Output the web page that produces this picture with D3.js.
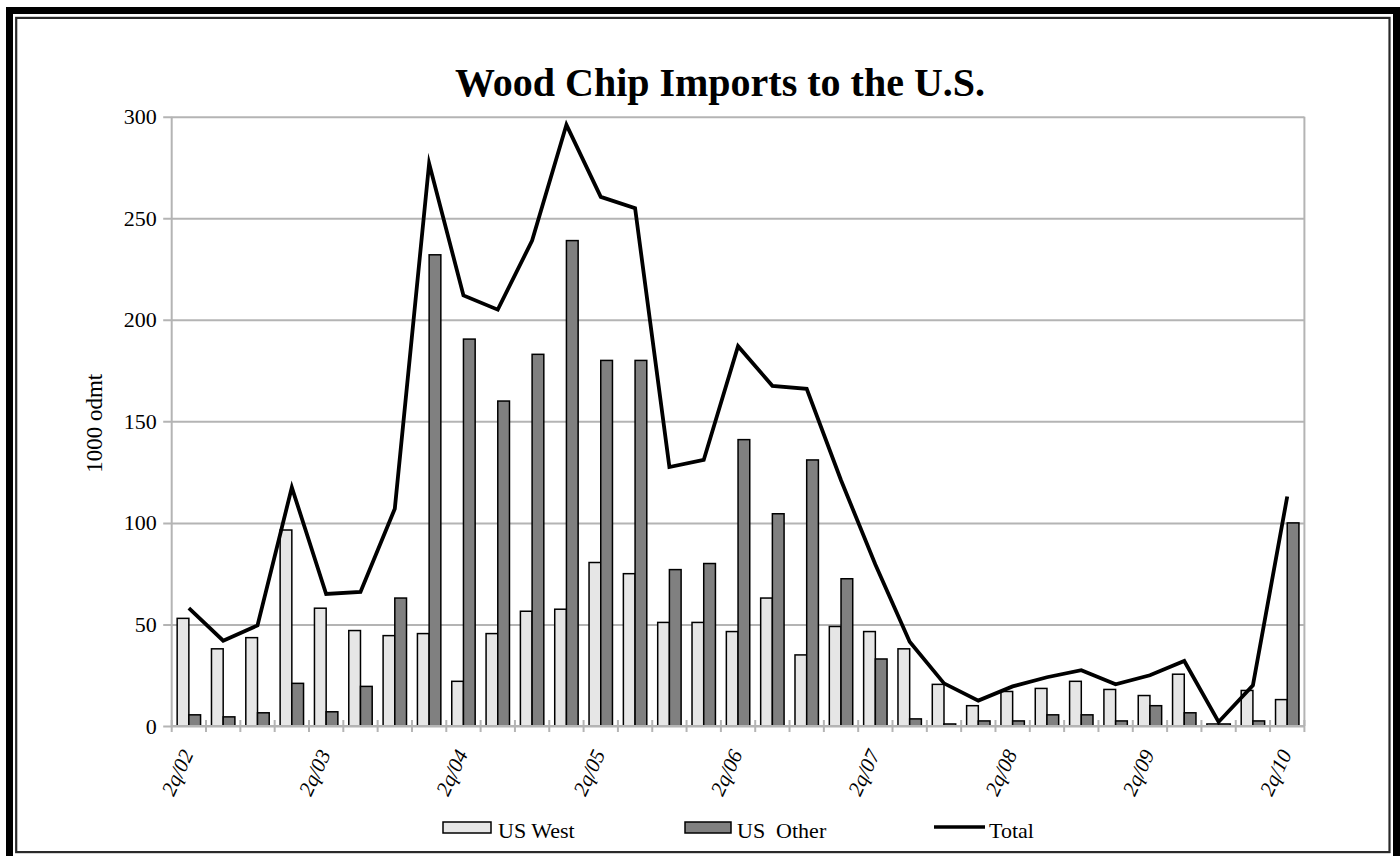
<!DOCTYPE html>
<html>
<head>
<meta charset="utf-8">
<title>Wood Chip Imports to the U.S.</title>
<script src="https://cdn.jsdelivr.net/npm/d3@7"></script>
<style>
  html, body { margin: 0; padding: 0; background: #ffffff; }
  svg { display: block; }
  text { font-family: "Liberation Serif", "Times New Roman", serif; fill: #000; }
</style>
</head>
<body>
<svg id="chart" width="1400" height="856"></svg>
<script>
// Quarterly wood chip imports, thousand oven-dry metric tonnes
const quarters = [
  "2q/02", "3q/02", "4q/02", "1q/03", "2q/03", "3q/03", "4q/03", "1q/04",
  "2q/04", "3q/04", "4q/04", "1q/05", "2q/05", "3q/05", "4q/05", "1q/06",
  "2q/06", "3q/06", "4q/06", "1q/07", "2q/07", "3q/07", "4q/07", "1q/08",
  "2q/08", "3q/08", "4q/08", "1q/09", "2q/09", "3q/09", "4q/09", "1q/10",
  "2q/10"
];
const usWest = [
  53, 38, 43.5, 96.5, 58, 47, 44.5, 45.5,
  22, 45.5, 56.5, 57.5, 80.5, 75, 51, 51,
  46.5, 63, 35, 49, 46.5, 38, 20.5, 10,
  17, 18.5, 22, 18, 15, 25.5, 1, 17.5,
  13
];
const usOther = [
  5.5, 4.5, 6.5, 21, 7, 19.5, 63, 232,
  190.5, 160, 183, 239, 180, 180, 77, 80,
  141, 104.5, 131, 72.5, 33, 3.5, 1, 2.5,
  2.5, 5.5, 5.5, 2.5, 10, 6.5, 1, 2.5,
  100
];
const total = [
  58, 42, 49.5, 117.5, 65, 66, 107, 277,
  212, 205, 239, 296, 260.5, 255, 127.5, 131,
  187, 167.5, 166, 121, 79.5, 41.5, 21, 12.5,
  19.5, 24, 27.5, 20.5, 25, 32, 2, 20,
  113
];
const tickLabels = ["2q/02", "2q/03", "2q/04", "2q/05", "2q/06", "2q/07", "2q/08", "2q/09", "2q/10"];
const yTicks = [0, 50, 100, 150, 200, 250, 300];
const seriesNames = ["US West", "US  Other", "Total"];

const svg = d3.select("#chart");
const gridColor = "#b4b4b4";
const fillWest = "#e6e6e6";
const fillOther = "#808080";

// Outer double frame
svg.append("rect")
  .attr("x", 9.5).attr("y", 10.5)
  .attr("width", 1387).attr("height", 900)
  .attr("fill", "none").attr("stroke", "#000").attr("stroke-width", 7);
svg.append("rect")
  .attr("x", 16.2).attr("y", 17.9)
  .attr("width", 1373.3).attr("height", 834.2)
  .attr("fill", "none").attr("stroke", "#2a2a2a").attr("stroke-width", 2.2);

// Plot area
const plot = { left: 171.7, right: 1304.4, top: 116.7, bottom: 726 };

const x0 = d3.scaleBand()
  .domain(quarters)
  .range([plot.left, plot.right])
  .paddingInner(0.318)
  .paddingOuter(0.159);

const x1 = d3.scaleBand()
  .domain(["west", "other"])
  .range([0, x0.bandwidth()]);

const y = d3.scaleLinear()
  .domain([0, 300])
  .range([plot.bottom, plot.top]);

// Horizontal gridlines with outward ticks
const yAxis = d3.axisLeft(y)
  .tickValues(yTicks)
  .tickSize(-(plot.right - plot.left))
  .tickPadding(15)
  .tickFormat(d3.format("d"));

const gy = svg.append("g")
  .attr("transform", `translate(${plot.left},0)`)
  .call(yAxis);
gy.select(".domain").remove();
gy.selectAll(".tick line")
  .attr("x1", -8.5)
  .attr("stroke", gridColor)
  .attr("stroke-width", 2);
gy.selectAll(".tick text")
  .attr("font-size", 22)
  .attr("font-family", "'Liberation Serif', 'Times New Roman', serif")
  .attr("fill", "#000");

// Left and right plot borders
svg.append("line")
  .attr("x1", plot.left).attr("x2", plot.left)
  .attr("y1", plot.top).attr("y2", plot.bottom)
  .attr("stroke", gridColor).attr("stroke-width", 2);
svg.append("line")
  .attr("x1", plot.right).attr("x2", plot.right)
  .attr("y1", plot.top).attr("y2", plot.bottom)
  .attr("stroke", gridColor).attr("stroke-width", 2);

// Category boundary ticks on the baseline
const boundaries = quarters.map(q => x0(q) - x0.step() * x0.paddingInner() / 2)
  .concat([plot.right]);
svg.append("g").selectAll("line")
  .data(boundaries)
  .join("line")
  .attr("x1", d => d).attr("x2", d => d)
  .attr("y1", plot.bottom - 6).attr("y2", plot.bottom + 6)
  .attr("stroke", gridColor).attr("stroke-width", 2);

// Bars
const groups = svg.append("g").selectAll("g")
  .data(quarters.map((q, i) => ({ q, west: usWest[i], other: usOther[i] })))
  .join("g")
  .attr("transform", d => `translate(${x0(d.q)},0)`);

groups.append("rect")
  .attr("x", x1("west"))
  .attr("y", d => y(d.west))
  .attr("width", x1.bandwidth())
  .attr("height", d => y(0) - y(d.west))
  .attr("fill", fillWest)
  .attr("stroke", "#000")
  .attr("stroke-width", 1.5);

groups.append("rect")
  .attr("x", x1("other"))
  .attr("y", d => y(d.other))
  .attr("width", x1.bandwidth())
  .attr("height", d => y(0) - y(d.other))
  .attr("fill", fillOther)
  .attr("stroke", "#000")
  .attr("stroke-width", 1.5);

// Baseline
svg.append("line")
  .attr("x1", plot.left).attr("x2", plot.right)
  .attr("y1", plot.bottom).attr("y2", plot.bottom)
  .attr("stroke", gridColor).attr("stroke-width", 2);

// Total line
const line = d3.line()
  .x((d, i) => x0(quarters[i]) + x0.bandwidth() / 2)
  .y(d => y(d));
svg.append("path")
  .datum(total)
  .attr("d", line)
  .attr("fill", "none")
  .attr("stroke", "#000")
  .attr("stroke-width", 3.8)
  .attr("stroke-linejoin", "miter")
  .attr("stroke-miterlimit", 6);

// Rotated quarter labels
svg.append("g").selectAll("text")
  .data(tickLabels)
  .join("text")
  .attr("transform", d => `translate(${x0(d) + x0.bandwidth() / 2 + 5},${plot.bottom + 28}) rotate(-65)`)
  .attr("text-anchor", "end")
  .attr("font-size", 21)
  .attr("font-style", "italic")
  .text(d => d);

// Title
svg.append("text")
  .attr("x", 720).attr("y", 96)
  .attr("text-anchor", "middle")
  .attr("font-size", 40)
  .attr("font-weight", "bold")
  .text("Wood Chip Imports to the U.S.");

// Y axis title
svg.append("text")
  .attr("transform", `translate(102,${(plot.top + plot.bottom) / 2 + 2}) rotate(-90)`)
  .attr("text-anchor", "middle")
  .attr("font-size", 23)
  .text("1000 odmt");

// Legend
const legend = svg.append("g");
legend.append("rect")
  .attr("x", 443).attr("y", 822).attr("width", 48).attr("height", 11)
  .attr("fill", fillWest).attr("stroke", "#000").attr("stroke-width", 1.5);
legend.append("text")
  .attr("x", 498).attr("y", 838).attr("font-size", 22)
  .text(seriesNames[0]);
legend.append("rect")
  .attr("x", 685).attr("y", 822).attr("width", 46).attr("height", 11)
  .attr("fill", fillOther).attr("stroke", "#000").attr("stroke-width", 1.5);
legend.append("text")
  .attr("x", 737).attr("y", 838).attr("font-size", 22)
  .style("white-space", "pre")
  .text(seriesNames[1]);
legend.append("line")
  .attr("x1", 934).attr("x2", 985)
  .attr("y1", 827).attr("y2", 827)
  .attr("stroke", "#000").attr("stroke-width", 3.6);
legend.append("text")
  .attr("x", 989).attr("y", 838).attr("font-size", 22)
  .text(seriesNames[2]);
</script>
</body>
</html>
